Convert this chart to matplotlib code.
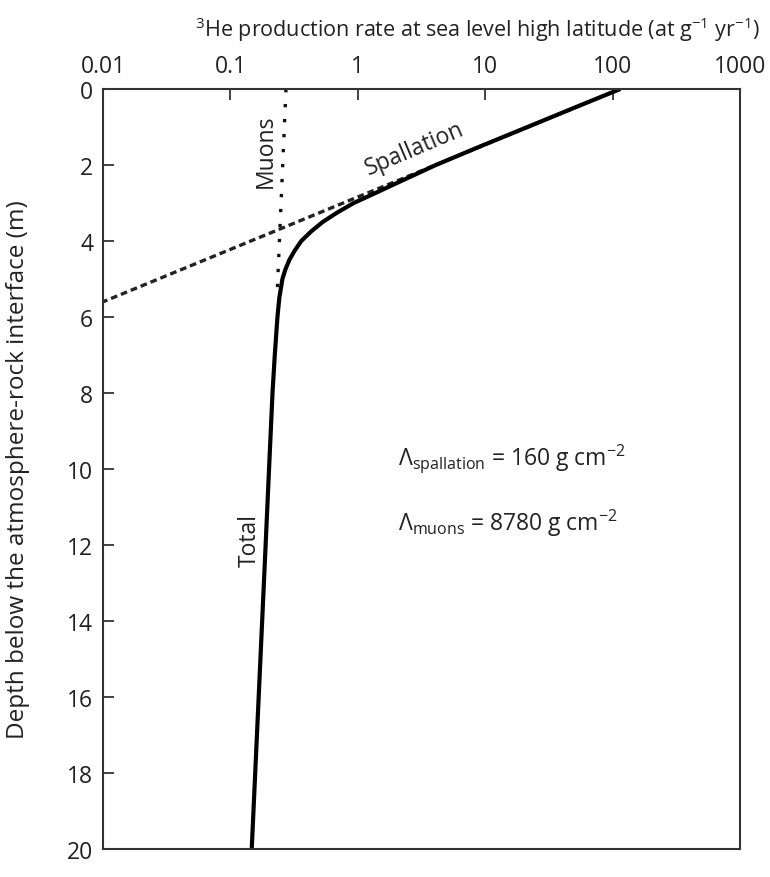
import matplotlib
matplotlib.use('Agg')
import matplotlib.pyplot as plt

plt.rcParams['font.family'] = ['Open Sans', 'DejaVu Sans']
plt.rcParams['mathtext.fontset'] = 'custom'
plt.rcParams['mathtext.rm'] = 'Open Sans'
plt.rcParams['mathtext.it'] = 'Open Sans'
plt.rcParams['mathtext.sf'] = 'Open Sans'

# values
spall_depth = [0.0, 5.6]
spall_rate = [115.0, 0.01]

muon_depth = [0.0, 5.5]
muon_rate = [0.273, 0.232]

total_depth = [0, 0.5, 1, 1.5, 2, 2.5, 2.75, 3, 3.25, 3.5, 3.75, 4, 4.25, 4.5, 4.75,
               5, 5.5, 6, 7, 8, 10, 12, 15, 20]
total_rate = [115, 49.5, 21.5, 9.3, 4.1, 1.95, 1.35, 0.93, 0.69, 0.53, 0.43, 0.36, 0.32,
              0.29, 0.27, 0.256, 0.242, 0.234, 0.223, 0.214, 0.201, 0.189, 0.172, 0.147]

xticks = [0.01, 0.1, 1, 10, 100, 1000]
xticklabels = ['0.01', '0.1', '1', '10', '100', '1000']
yticks = list(range(0, 21, 2))

fig = plt.figure(figsize=(7.7, 8.78), dpi=100)
ax = fig.add_axes([0.1338, 0.0319, 0.8272, 0.8656])

ax.plot(spall_rate, spall_depth, color='#222222', lw=2.4, ls=(0, (2.0, 1.2)), solid_capstyle='butt')
ax.plot(muon_rate, muon_depth, color='#111111', lw=2.4, ls=(0, (1, 3.5)), dash_capstyle='butt')
ax.plot(total_rate, total_depth, color='black', lw=3.0, solid_capstyle='butt')

ax.set_xscale('log')
ax.set_xlim(0.01, 1000)
ax.set_ylim(20, 0)
ax.xaxis.tick_top()
ax.xaxis.set_label_position('top')
ax.set_xticks(xticks)
ax.set_xticklabels(xticklabels)
ax.xaxis.set_minor_locator(matplotlib.ticker.NullLocator())
ax.set_yticks(yticks)
ax.tick_params(axis='both', direction='in', length=8, width=1.3, color='#333333',
               labelsize=16.5, labelcolor='#222222', pad=7)
ax.tick_params(axis='x', pad=8)
for s in ax.spines.values():
    s.set_linewidth(1.5)
    s.set_color('#333333')

ax.set_xlabel('$^{3}$He production rate at sea level high latitude (at g$^{-1}$ yr$^{-1}$)',
              fontsize=15.5, color='#222222')
ax.xaxis.set_label_coords(0.587, 1.07)
ax.set_ylabel('Depth below the atmosphere-rock interface (m)', fontsize=17.5,
              color='#222222')
ax.yaxis.set_label_coords(-0.115, 0.5)

ax.text(0.19, 1.6, 'Muons', rotation=90, fontsize=16.5, color='#222222', ha='center', va='center')
ax.text(0.143, 11.85, 'Total', rotation=90, fontsize=16.5, color='#222222', ha='center', va='center')
ax.text(2.8, 1.55, 'Spallation', rotation=23, fontsize=16.5, color='#222222', ha='center', va='center')
ax.text(2.07, 9.7, r'$\Lambda_{\mathrm{spallation}}$ = 160 g cm$^{-2}$', fontsize=16.5,
        color='#222222', ha='left', va='center')
ax.text(2.07, 11.4, r'$\Lambda_{\mathrm{muons}}$ = 8780 g cm$^{-2}$', fontsize=16.5,
        color='#222222', ha='left', va='center')

fig.savefig('out.png', dpi=100)
